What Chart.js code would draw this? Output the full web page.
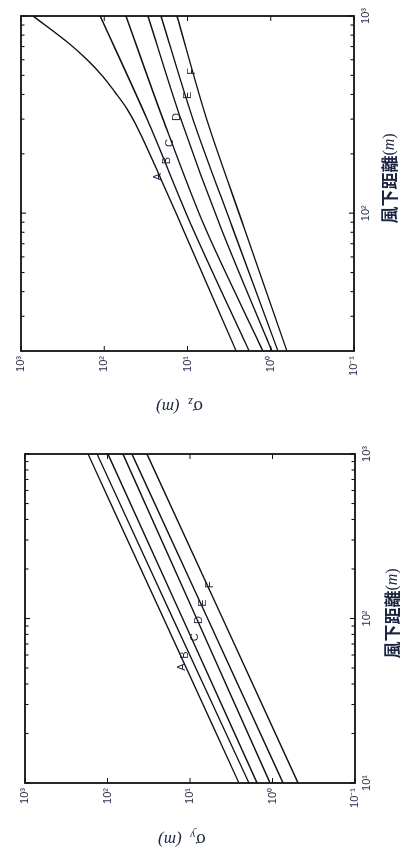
<!DOCTYPE html>
<html>
<head>
<meta charset="utf-8">
<script src="https://cdn.jsdelivr.net/npm/chart.js@4.4.1/dist/chart.umd.min.js"></script>
<style>
  body { margin: 0; background: #fff; }
  .panel { position: absolute; left: 0; width: 400px; height: 428px; overflow: hidden; }
  .rot { position: absolute; left: 0; top: 0; width: 428px; height: 400px;
         transform-origin: 0 0; transform: translateY(428px) rotate(-90deg); }
</style>
</head>
<body>
<div class="panel" style="top:0"><div class="rot"><canvas id="Graph1" width="428" height="400"></canvas></div></div>
<div class="panel" style="top:428px"><div class="rot"><canvas id="Graph2" width="428" height="400"></canvas></div></div>
<script>
const classes = ['A', 'B', 'C', 'D', 'E', 'F'];

// sigma z (upper chart), downwind distance in m
const szDistA = [20, 85, 150, 283, 337, 410, 494, 601, 732, 1000];
const szA = [2.6, 11.6, 21, 42, 53, 74, 104, 161, 272, 718];
const szDist = [20, 85, 300, 1000];
const szB = [1.82, 8.8, 30.6, 112];
const szC = [1.24, 6.2, 19.7, 54.8];
const szD = [0.97, 4.0, 12.0, 29.8];
const szE = [0.82, 2.9, 8.6, 20.8];
const szF = [0.64, 2.1, 5.9, 13.4];
const szLabelDist = [153, 185, 227, 307, 396, 523];
const szLabelSigma = [22.6, 17.6, 16.2, 13.4, 9.9, 8.8];

// sigma y (lower chart)
const syDist = [10, 100, 1000];
const syA = [2.55, 20.9, 172];
const syB = [1.93, 16.1, 134];
const syC = [1.54, 12.3, 98.6];
const syD = [1.07, 8.3, 65];
const syE = [0.746, 6.1, 50.5];
const syF = [0.49, 4.03, 33.2];
const syLabelDist = [50.7, 60, 77, 98, 124, 160];
const syLabelSigma = [12.5, 11.5, 8.7, 7.8, 6.95, 5.7];

// ticks
const sigmaTicks = [0.1, 1, 10, 100, 1000];
const distTicksZ = [100, 1000];
const distTicksY = [10, 100, 1000];
const minorDist = [20, 30, 40, 50, 60, 70, 80, 90, 200, 300, 400, 500, 600, 700, 800, 900];
const supers = { '-1': '⁻¹', '0': '⁰', '1': '¹', '2': '²', '3': '³' };

const ink = '#1b2440';

function expLabel(v) {
  return '10' + supers[String(Math.round(Math.log10(v)))];
}

function pts(xs, ys) {
  return xs.map((x, i) => ({ x: x, y: ys[i] }));
}

function drawPieces(ctx, pieces) {
  let total = 0;
  pieces.forEach(p => { ctx.font = p[1]; total += ctx.measureText(p[0]).width; });
  let x = -total / 2;
  pieces.forEach(p => {
    ctx.font = p[1];
    ctx.fillText(p[0], x, p[2] || 0);
    x += ctx.measureText(p[0]).width;
  });
}

const framePlugin = {
  id: 'frame',
  afterDraw(chart, args, opts) {
    const ctx = chart.ctx, a = chart.chartArea;
    const xs = chart.scales.x, ys = chart.scales.y;
    ctx.save();
    ctx.strokeStyle = '#111';
    ctx.lineWidth = 1.8;
    ctx.strokeRect(a.left, a.top, a.right - a.left, a.bottom - a.top);
    ctx.lineWidth = 1.1;
    ctx.beginPath();
    opts.major.forEach(v => {
      const px = xs.getPixelForValue(v);
      ctx.moveTo(px, a.bottom); ctx.lineTo(px, a.bottom - 5);
      ctx.moveTo(px, a.top); ctx.lineTo(px, a.top + 5);
    });
    minorDist.filter(v => v > xs.min && v < xs.max).forEach(v => {
      const px = xs.getPixelForValue(v);
      ctx.moveTo(px, a.bottom); ctx.lineTo(px, a.bottom - 3.5);
      ctx.moveTo(px, a.top); ctx.lineTo(px, a.top + 3.5);
    });
    sigmaTicks.forEach(v => {
      const py = ys.getPixelForValue(v);
      ctx.moveTo(a.left, py); ctx.lineTo(a.left + 5, py);
      ctx.moveTo(a.right, py); ctx.lineTo(a.right - 5, py);
    });
    ctx.stroke();

    // class letters
    ctx.fillStyle = ink;
    ctx.font = '11px "Liberation Sans", Arial, sans-serif';
    ctx.textAlign = 'center';
    ctx.textBaseline = 'middle';
    classes.forEach((c, i) => {
      ctx.fillText(c, xs.getPixelForValue(opts.labelDist[i]), ys.getPixelForValue(opts.labelSigma[i]));
    });

    // axis titles
    ctx.textAlign = 'left';
    ctx.textBaseline = 'middle';
    ctx.save();
    ctx.translate(opts.yTitleX, (a.top + a.bottom) / 2 - 8);
    ctx.rotate(-Math.PI / 2);
    drawPieces(ctx, [
      ['σ', '19px "Liberation Serif", serif', 0],
      [opts.sub, 'italic 12px "Liberation Serif", serif', 5],
      ['  (', 'italic 17px "Liberation Serif", serif', 0],
      ['m', 'italic 17px "Liberation Serif", serif', 0],
      [')', 'italic 17px "Liberation Serif", serif', 0]
    ]);
    ctx.restore();
    ctx.save();
    ctx.translate((a.left + a.right) / 2 + 5, opts.xTitleY);
    drawPieces(ctx, [
      ['風下距離', 'bold 17px "Noto Sans CJK TC", sans-serif', 0],
      ['(', '16px "Liberation Serif", serif', 0],
      ['m', 'italic 16px "Liberation Serif", serif', 0],
      [')', '16px "Liberation Serif", serif', 0]
    ]);
    ctx.restore();
    ctx.restore();
  }
};

function makeChart(canvas, sets, xMin, majors, pad, yWidth, xHeight, extra) {
  return new Chart(canvas, {
    type: 'line',
    data: {
      datasets: sets.map((s, i) => ({
        label: classes[i],
        data: s,
        borderColor: '#111',
        borderWidth: 1.4,
        pointRadius: 0,
        fill: false,
        tension: extra.tension,
        cubicInterpolationMode: i === 0 ? 'monotone' : 'default'
      }))
    },
    options: {
      responsive: false,
      animation: false,
      devicePixelRatio: 1,
      layout: { padding: pad },
      plugins: {
        legend: { display: false },
        tooltip: { enabled: false },
        frame: Object.assign({ major: majors }, extra)
      },
      scales: {
        x: {
          type: 'logarithmic',
          min: xMin,
          max: 1000,
          grid: { display: false, drawTicks: false },
          border: { display: false },
          afterBuildTicks: s => { s.ticks = majors.map(v => ({ value: v })); },
          afterFit: s => { s.height = xHeight; },
          ticks: {
            autoSkip: false, maxRotation: 0, padding: 5, color: ink,
            font: { family: '"Liberation Sans", Arial, sans-serif', size: 11 },
            callback: v => expLabel(v)
          }
        },
        y: {
          type: 'logarithmic',
          min: 0.1,
          max: 1000,
          grid: { display: false, drawTicks: false },
          border: { display: false },
          afterBuildTicks: s => { s.ticks = sigmaTicks.map(v => ({ value: v })); },
          afterFit: s => { s.width = yWidth; },
          ticks: {
            autoSkip: false, padding: 5, color: ink,
            font: { family: '"Liberation Sans", Arial, sans-serif', size: 11 },
            callback: v => expLabel(v)
          }
        }
      }
    },
    plugins: [framePlugin]
  });
}

makeChart(document.getElementById('Graph1'),
  [pts(szDistA, szA), pts(szDist, szB), pts(szDist, szC), pts(szDist, szD), pts(szDist, szE), pts(szDist, szF)],
  20, distTicksZ, { left: 0, right: 16, top: 21, bottom: 0 }, 77, 46,
  { labelDist: szLabelDist, labelSigma: szLabelSigma, sub: 'z', yTitleX: 22, xTitleY: 390, tension: 0.3 });

makeChart(document.getElementById('Graph2'),
  [pts(syDist, syA), pts(syDist, syB), pts(syDist, syC), pts(syDist, syD), pts(syDist, syE), pts(syDist, syF)],
  10, distTicksY, { left: 0, right: 26, top: 25, bottom: 0 }, 73, 45,
  { labelDist: syLabelDist, labelSigma: syLabelSigma, sub: 'y', yTitleX: 17, xTitleY: 393, tension: 0 });
</script>
</body>
</html>
